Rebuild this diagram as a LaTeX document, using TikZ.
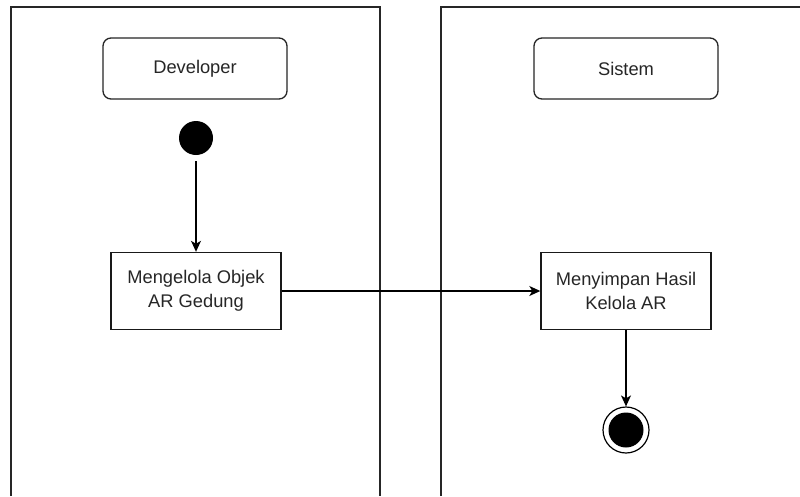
\documentclass[tikz,border=0pt]{standalone}
\usepackage{fontspec}
\setmainfont{Liberation Sans}
\usetikzlibrary{arrows.meta}
\begin{document}
\begin{tikzpicture}[x=1pt,y=-1pt,
  lane/.style={draw=black!85, line width=1.2pt},
  actor/.style={draw=black!85, line width=1.3pt, rounded corners=8pt,
    minimum width=184pt, minimum height=61pt, inner sep=0pt,
    font=\fontsize{18.3}{23.5}\selectfont, text=black!85},
  activity/.style={draw=black!90, line width=1.4pt,
    minimum width=170pt, minimum height=77pt, inner sep=0pt, align=center,
    font=\fontsize{18.3}{23.5}\selectfont, text=black!85},
  startnode/.style={circle, fill=black, minimum size=34pt, inner sep=0pt},
  endnode/.style={circle, draw=black, line width=1.2pt, fill=white,
    minimum size=46pt, inner sep=0pt},
  flow/.style={draw=black, line width=1.3pt,
    -{Stealth[length=11pt, width=10pt, inset=3pt]}}]
  \useasboundingbox (0,0) rectangle (800,496);
  \fill[white] (0,0) rectangle (800,496);

  % swimlanes
  \draw[lane] (11,496) -- (11,7) -- (380,7) -- (380,496);
  \draw[lane] (441,496) -- (441,7) -- (800,7);

  % lane headers
  \node[actor] (dev) at (195,68.5) {Developer};
  \node[actor] (sys) at (626,68.5) {Sistem};

  % initial node
  \node[startnode] (start) at (196,138) {};

  % activities
  \node[activity] (act1) at (196,291) {Mengelola Objek\\AR Gedung};
  \node[activity] (act2) at (626,291) {Menyimpan Hasil\\Kelola AR};

  % final node
  \node[endnode] (final) at (626,430) {};
  \fill[black] (final.center) circle (17.5pt);

  % control flows
  \draw[flow, shorten <=6pt] (start) -- (act1);
  \draw[flow] (act1) -- (act2);
  \draw[flow] (act2) -- (final);
\end{tikzpicture}
\end{document}
